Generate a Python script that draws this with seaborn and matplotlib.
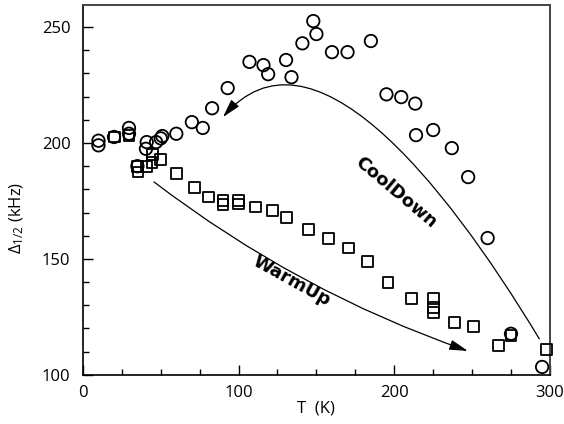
import numpy as np
import pandas as pd
import matplotlib
matplotlib.use("Agg")
import matplotlib.pyplot as plt
from matplotlib.patches import FancyArrowPatch
from matplotlib.path import Path
from matplotlib.ticker import MultipleLocator
import seaborn as sns

# CoolDown (circles)
cool_T = [10, 10, 20, 29.6, 29.6, 35, 40.5, 41, 47, 50, 51, 60, 70, 77, 83, 93,
          107, 116, 119, 130.5, 134, 141, 148, 150, 160, 170, 185, 195, 204.5,
          213.5, 214, 225, 237, 247.5, 260, 275, 295]
cool_D = [201, 199, 202.6, 206.5, 204, 190, 197.5, 200.4, 200.4, 202, 203, 204,
          209, 206.5, 215, 223.7, 235, 233.6, 229.7, 235.8, 228.4, 243, 252.6,
          247, 239.2, 239.2, 244, 221, 219.8, 217, 203.4, 205.6, 197.8, 185.3,
          159, 117.7, 103.4]
# WarmUp (squares)
warm_T = [20, 29.6, 35.4, 35, 41, 44.4, 45, 50, 60.4, 71.4, 80.4, 90, 90, 99.7,
          99.7, 110.6, 121.5, 130.5, 144.7, 157.6, 170.4, 183, 196, 211, 225,
          225, 225, 238.6, 250.8, 267, 275, 298]
warm_D = [202.6, 203.4, 187.5, 190, 189.7, 191.4, 195, 192.7, 187, 181, 176.7,
          175.4, 173.3, 175.4, 173.7, 172.4, 170.7, 168, 162.5, 159, 154.7, 149,
          139.7, 133, 132.8, 128.9, 127, 122.4, 121, 112.5, 116.8, 111]

x_ticks = [0, 100, 200, 300]
y_ticks = [100, 150, 200, 250]

sns.set_style("white")
plt.rcParams['font.family'] = ['Open Sans', 'DejaVu Sans']
plt.rcParams.update({"text.color": "black", "axes.labelcolor": "black",
                     "xtick.color": "black", "ytick.color": "black"})

fig = plt.figure(figsize=(5.64, 4.24), dpi=100)
ax = fig.add_axes([0.147, 0.116, 0.828, 0.872])

cool = pd.DataFrame({"T": cool_T, "D": cool_D})
warm = pd.DataFrame({"T": warm_T, "D": warm_D})

sns.scatterplot(data=warm, x="T", y="D", marker="s", s=62, facecolor="none",
                edgecolor="black", linewidth=1.3, ax=ax, zorder=3, clip_on=False)
sns.scatterplot(data=cool, x="T", y="D", marker="o", s=80, facecolor="none",
                edgecolor="black", linewidth=1.3, ax=ax, zorder=3, clip_on=False)

ax.set_xlim(0, 300)
ax.set_ylim(100, 259.5)
ax.set_xticks(x_ticks)
ax.set_yticks(y_ticks)
ax.xaxis.set_minor_locator(MultipleLocator(25))
ax.yaxis.set_minor_locator(MultipleLocator(10))
ax.tick_params(axis="both", which="both", direction="in", bottom=True,
               left=True, top=False, right=False, color="black", width=1)
ax.tick_params(axis="both", which="major", length=7, labelsize=12)
ax.tick_params(axis="x", which="major", pad=7)
ax.tick_params(axis="y", which="major", pad=9)
ax.tick_params(axis="both", which="minor", length=4.5)
for side in ["left", "bottom"]:
    ax.spines[side].set_color("black")
    ax.spines[side].set_linewidth(1.2)
for side in ["top", "right"]:
    ax.spines[side].set_color("#444444")
    ax.spines[side].set_linewidth(1.4)

ax.set_xlabel("T  (K)", fontsize=12)
ax.set_ylabel(r"$\mathregular{\Delta_{1/2}}$ (kHz)", fontsize=12)
ax.xaxis.set_label_coords(0.5, -0.07)
ax.yaxis.set_label_coords(-0.122, 0.424)

# CoolDown arrow (cubic curve)
verts = [(293.2, 115.5), (229.6, 186.2), (146.0, 254.5), (90.0, 211.2)]
codes = [Path.MOVETO, Path.CURVE4, Path.CURVE4, Path.CURVE4]
arr = FancyArrowPatch(path=Path(verts, codes),
                      arrowstyle="-|>,head_length=0.8,head_width=0.22",
                      transform=ax.transData, color="black", lw=0.9,
                      mutation_scale=14)
ax.add_patch(arr)

# WarmUp arrow
ax.annotate("", xy=(247.3, 110.3), xytext=(45.7, 183.2),
            arrowprops=dict(arrowstyle="-|>,head_length=0.8,head_width=0.22",
                            connectionstyle="arc3,rad=0.08", color="black",
                            lw=0.9, shrinkA=0, shrinkB=0, mutation_scale=14))

ax.text(201, 178.7, "CoolDown", rotation=-40, ha="center", va="center",
        fontsize=13, fontweight="bold", family="DejaVu Sans",
        rotation_mode="anchor")
ax.text(133.8, 140.5, "WarmUp", rotation=-29, ha="center", va="center",
        fontsize=13, fontweight="bold", family="DejaVu Sans",
        rotation_mode="anchor")

fig.savefig("out.png", dpi=100)
